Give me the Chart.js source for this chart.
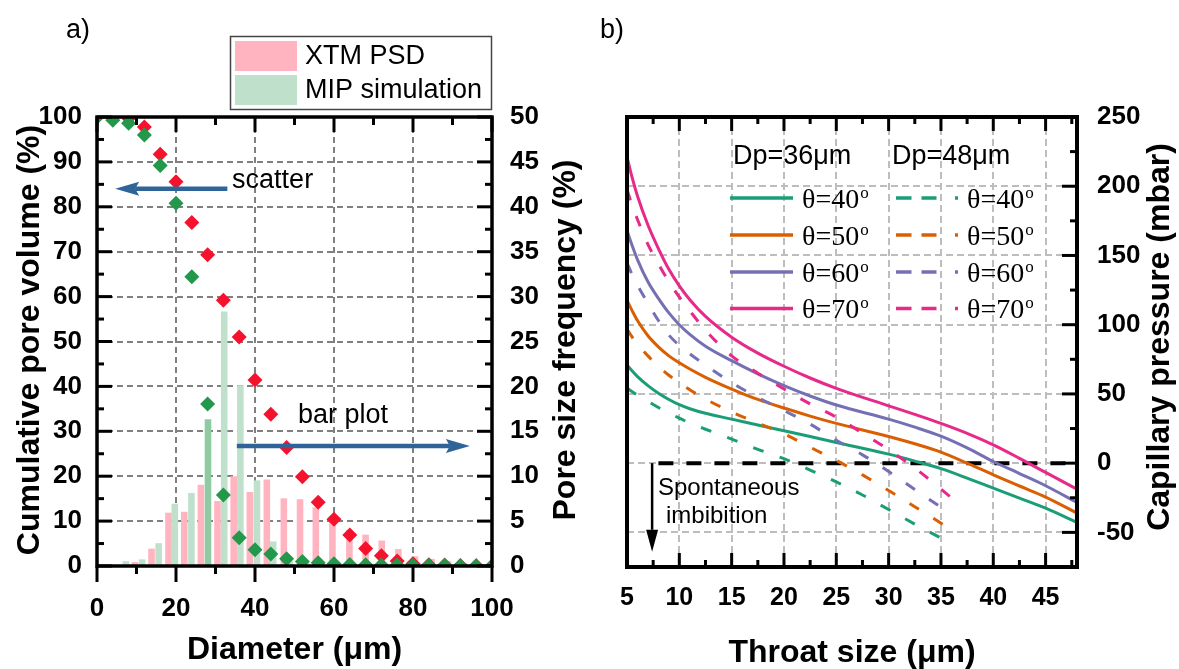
<!DOCTYPE html>
<html>
<head>
<meta charset="utf-8">
<script src="https://cdn.jsdelivr.net/npm/chart.js@4.4.0/dist/chart.umd.min.js"></script>
<style>
  html, body { margin: 0; padding: 0; background: #fff; }
  #wrap { position: relative; width: 1179px; height: 669px; overflow: hidden; background: #fff; }
  #chartA { position: absolute; left: 0; top: 0; }
  #chartB { position: absolute; left: 590px; top: 0; }
</style>
</head>
<body>
<div id="wrap">
  <canvas id="chartA" width="590" height="669"></canvas>
  <canvas id="chartB" width="589" height="669"></canvas>
</div>
<script>
// ---- panel a data ----
const diameter = [0, 4, 8, 12, 16, 20, 24, 28, 32, 36, 40, 44, 48, 52, 56, 60, 64, 68, 72, 76, 80, 84, 88, 92, 96, 100];
const xtmCumulative = [100, 99.9, 99.7, 97.8, 91.7, 85.6, 76.5, 69.3, 59.2, 51.0, 41.4, 33.8, 26.4, 19.9, 14.2, 10.4, 6.9, 3.9, 2.3, 1.1, 0.5, 0.3, 0.2, 0.1, 0.05, 0];
const mipCumulative = [100, 99.3, 98.6, 96.0, 89.2, 80.8, 64.4, 36.1, 15.8, 6.3, 3.6, 2.7, 1.6, 1.0, 0.7, 0.5, 0.35, 0.3, 0.25, 0.2, 0.15, 0.1, 0.1, 0.05, 0.05, 0];

const xtmBinCentre = [9.6, 13.8, 18.1, 22.1, 26.3, 30.5, 34.6, 38.7, 43.0, 47.3, 51.4, 55.4, 59.6, 63.9, 68.0, 72.1, 76.3, 80.5, 84.7, 88.9, 92.9];
const xtmFrequency = [0.4, 1.9, 5.9, 6.0, 9.0, 7.2, 9.95, 8.2, 9.6, 7.5, 7.4, 6.5, 5.5, 4.0, 3.45, 2.8, 1.85, 1.05, 0.75, 0.5, 0.3];
const mipBinCentre = [7.3, 11.4, 15.6, 19.7, 23.9, 28.1, 32.2, 36.3, 40.5, 44.6, 48.8, 52.9, 57.1];
const mipFrequency = [0.5, 0.7, 2.5, 6.9, 8.1, 16.3, 28.3, 20.1, 9.5, 2.7, 0.5, 0.3, 0.15];

const diameterTicks = [0, 20, 40, 60, 80, 100];
const diameterMinor = [10, 30, 50, 70, 90];
const volumeTicks = [0, 10, 20, 30, 40, 50, 60, 70, 80, 90, 100];
const volumeMinor = [5, 15, 25, 35, 45, 55, 65, 75, 85, 95];
const freqTicks = [0, 5, 10, 15, 20, 25, 30, 35, 40, 45, 50];
const freqMinor = [2.5, 7.5, 12.5, 17.5, 22.5, 27.5, 32.5, 37.5, 42.5, 47.5];

// ---- panel b data ----
const throatSolid = [5, 5.5, 6, 7, 8, 9, 10, 11, 12.5, 15, 17.5, 20, 22.5, 25, 30, 32.5, 35, 37.5, 40, 42.5, 45, 48];
const pcSolid40 = [71, 66.5, 62.5, 56, 50.5, 46, 42.2, 39.3, 36, 31.8, 27.5, 23.4, 19.2, 14.9, 6.5, 1.5, -4, -10.8, -18, -25.3, -32.5, -42.8];
const pcSolid50 = [117.6, 110, 103, 92, 84, 77.5, 72.5, 68, 62, 53.5, 46, 39.8, 34, 28.7, 19.3, 14, 8, 0, -8.4, -16.5, -24.5, -36];
const pcSolid60 = [168, 157, 147, 131, 119, 108.5, 100, 93, 84.5, 74, 64.5, 56, 48.5, 42, 31.8, 26, 19.5, 11, 1.2, -7.5, -16.3, -28.4];
const pcSolid70 = [221, 206, 193, 172, 155, 140, 128, 118, 106, 91, 79.5, 70, 61.5, 54, 41.4, 35.2, 28.7, 21.5, 13.2, 3.5, -6.7, -18.8];

const throatDashed = [5, 5.5, 6, 7, 8, 9, 10, 11, 12.5, 15, 17.5, 20, 22.5, 25, 27.5, 30, 32.5, 36];
const pcDash40 = [54.2, 51.6, 49.2, 44.6, 40.2, 36.2, 32.5, 29, 24.5, 17.4, 10, 3.2, -5, -13.5, -23, -33.5, -44, -58];
const pcDash50 = [96.9, 91, 86, 77.5, 70, 63.5, 58, 53, 46.3, 37, 29, 21.2, 11.5, 2, -8.5, -19.7, -31.5, -48];
const pcDash60 = [144.6, 136, 128.5, 115.5, 103, 92.5, 85, 79, 70.8, 58.2, 47.5, 38, 28.2, 16.5, 6, -6, -19, -37];
const pcDash70 = [197.6, 186, 176, 158, 144, 131, 120, 110, 96, 77.5, 65, 53.5, 42.8, 33.2, 21.7, 9.7, -3.5, -25];

const throatTicks = [5, 10, 15, 20, 25, 30, 35, 40, 45];
const throatMinor = [7.5, 12.5, 17.5, 22.5, 27.5, 32.5, 37.5, 42.5, 47.5];
const pressureTicks = [-50, 0, 50, 100, 150, 200, 250];
const pressureMinor = [-25, 25, 75, 125, 175, 225];

const angles = ["40", "50", "60", "70"];
const dark2 = ["#1b9e77", "#d95f02", "#7570b3", "#e7298a"];

const FONT = '"Liberation Sans", Arial, sans-serif';
const SERIF = '"Liberation Serif", "Times New Roman", serif';
const pts = (xs, ys) => xs.map((x, i) => ({ x: x, y: ys[i] }));

function line(ctx, x1, y1, x2, y2) {
    ctx.beginPath();
    ctx.moveTo(x1, y1);
    ctx.lineTo(x2, y2);
    ctx.stroke();
}

function arrow(ctx, x1, y1, x2, y2, o) {
    const ang = Math.atan2(y2 - y1, x2 - x1), c = Math.cos(ang), s = Math.sin(ang);
    const bx = x2 - c * o.len, by = y2 - s * o.len;
    ctx.strokeStyle = o.color;
    ctx.fillStyle = o.color;
    ctx.lineWidth = o.w;
    ctx.setLineDash([]);
    line(ctx, x1, y1, bx + c * o.notch, by + s * o.notch);
    ctx.beginPath();
    ctx.moveTo(x2, y2);
    ctx.lineTo(bx - s * o.half, by + c * o.half);
    ctx.lineTo(bx + c * o.notch, by + s * o.notch);
    ctx.lineTo(bx + s * o.half, by - c * o.half);
    ctx.closePath();
    ctx.fill();
}

function ticksX(ctx, scale, values, yEdge, len) {
    values.forEach(v => {
        const p = scale.getPixelForValue(v);
        line(ctx, p, yEdge, p, yEdge + len);
    });
}
function ticksY(ctx, scale, values, xEdge, len) {
    values.forEach(v => {
        const p = scale.getPixelForValue(v);
        line(ctx, xEdge, p, xEdge + len, p);
    });
}
function vText(ctx, text, x, y) {
    ctx.save();
    ctx.translate(x, y);
    ctx.rotate(-Math.PI / 2);
    ctx.textAlign = "center";
    ctx.textBaseline = "middle";
    ctx.fillText(text, 0, 0);
    ctx.restore();
}
function theta(ctx, deg, x, yc) {
    ctx.fillStyle = "#000";
    ctx.textAlign = "left";
    ctx.textBaseline = "alphabetic";
    ctx.font = "28px " + SERIF;
    const t = "θ=" + deg;
    ctx.fillText(t, x, yc + 9.5);
    const w = ctx.measureText(t).width;
    ctx.font = "17px " + SERIF;
    ctx.fillText("o", x + w + 1, yc - 0.5);
}

const tickFont = { family: FONT, size: 26, weight: "bold" };

// ------ panel a decorations ------
const panelA = {
    id: "panelA",
    afterDraw(chart) {
        const { ctx, chartArea: a, scales: { x, y, y2 } } = chart;
        ctx.save();
        ctx.strokeStyle = "#000";
        ctx.lineWidth = 3;
        ticksX(ctx, x, diameterTicks, a.bottom, 16);
        ticksX(ctx, x, diameterMinor, a.bottom, 8);
        ticksX(ctx, x, diameterTicks, a.top, 15);
        ticksX(ctx, x, diameterMinor, a.top, 8);
        ticksY(ctx, y, volumeTicks, a.left, 15);
        ticksY(ctx, y, volumeMinor, a.left, 7);
        ticksY(ctx, y2, freqTicks, a.right, -15);
        ticksY(ctx, y2, freqMinor, a.right, -7);
        ctx.lineWidth = 3.5;
        ctx.strokeRect(a.left, a.top, a.right - a.left, a.bottom - a.top);

        // arrows + notes
        const blue = "#2f6499";
        arrow(ctx, x.getPixelForValue(33), y.getPixelForValue(84), x.getPixelForValue(4.6), y.getPixelForValue(84),
            { w: 4.5, len: 24, half: 7, notch: 4, color: blue });
        arrow(ctx, x.getPixelForValue(35.4), y.getPixelForValue(26.7), x.getPixelForValue(94.4), y.getPixelForValue(26.7),
            { w: 4.5, len: 24, half: 7, notch: 4, color: blue });
        ctx.fillStyle = "#000";
        ctx.font = "27px " + FONT;
        ctx.textAlign = "left";
        ctx.textBaseline = "middle";
        ctx.fillText("scatter", x.getPixelForValue(34.2), y.getPixelForValue(85.8));
        ctx.fillText("bar plot", x.getPixelForValue(50.9), y.getPixelForValue(33.6));

        // legend
        ctx.lineWidth = 1.5;
        ctx.strokeStyle = "#444";
        ctx.strokeRect(230.5, 36.5, 261, 73);
        ctx.fillStyle = "#ffb4bf";
        ctx.fillRect(235, 41, 62, 30);
        ctx.fillStyle = "#bfe1cb";
        ctx.fillRect(235, 75, 62, 30);
        ctx.fillStyle = "#000";
        ctx.fillText("XTM PSD", 305, 57);
        ctx.fillText("MIP simulation", 305, 91);

        ctx.font = "27px " + FONT;
        ctx.fillText("a)", 66, 31);

        ctx.font = "bold 32px " + FONT;
        vText(ctx, "Cumulative pore volume (%)", 30, 340);
        vText(ctx, "Pore size frequency (%)", 566, 340);
        ctx.textAlign = "center";
        ctx.fillText("Diameter (μm)", (a.left + a.right) / 2, 650);
        ctx.restore();
    }
};

const mipColors = mipFrequency.map((v, i) => i === 5 ? "#8fcaa3" : "#bfe1cb");

new Chart(document.getElementById("chartA"), {
    type: "scatter",
    data: {
        datasets: [
            {
                type: "scatter", label: "MIP cumulative", data: pts(diameter, mipCumulative), yAxisID: "y",
                pointStyle: "rectRot", pointRadius: 7.5, backgroundColor: "#23984a", borderWidth: 0, order: 0
            },
            {
                type: "scatter", label: "XTM cumulative", data: pts(diameter, xtmCumulative), yAxisID: "y",
                pointStyle: "rectRot", pointRadius: 7.5, backgroundColor: "#f5122d", borderWidth: 0, order: 1
            },
            {
                type: "bar", label: "MIP simulation", data: pts(mipBinCentre, mipFrequency), yAxisID: "y2",
                backgroundColor: mipColors, borderWidth: 0, grouped: false, barPercentage: 1, categoryPercentage: 1,
                maxBarThickness: 7, order: 2
            },
            {
                type: "bar", label: "XTM PSD", data: pts(xtmBinCentre, xtmFrequency), yAxisID: "y2",
                backgroundColor: "#ffb4bf", borderWidth: 0, grouped: false, barPercentage: 1, categoryPercentage: 1,
                maxBarThickness: 7, order: 3
            }
        ]
    },
    options: {
        responsive: false,
        animation: false,
        devicePixelRatio: 1,
        layout: { padding: { top: 117, left: 0, right: 0, bottom: 0 } },
        plugins: { legend: { display: false }, tooltip: { enabled: false } },
        scales: {
            x: {
                type: "linear", min: 0, max: 100, offset: false,
                afterBuildTicks: s => { s.ticks = diameterTicks.map(v => ({ value: v })); },
                afterFit: s => { s.height = 103; },
                grid: { color: "#808080", lineWidth: 2, drawTicks: false, offset: false },
                border: { display: false, dash: [6, 4] },
                ticks: { font: tickFont, color: "#000", padding: 27, maxRotation: 0 }
            },
            y: {
                type: "linear", position: "left", min: 0, max: 100,
                afterBuildTicks: s => { s.ticks = volumeTicks.map(v => ({ value: v })); },
                afterFit: s => { s.width = 97; },
                grid: { color: "#808080", lineWidth: 2, drawTicks: false },
                border: { display: false, dash: [6, 4] },
                ticks: { font: tickFont, color: "#000", padding: 15 }
            },
            y2: {
                type: "linear", position: "right", min: 0, max: 50,
                afterBuildTicks: s => { s.ticks = freqTicks.map(v => ({ value: v })); },
                afterFit: s => { s.width = 98; },
                grid: { display: false, drawTicks: false },
                border: { display: false },
                ticks: { font: tickFont, color: "#000", padding: 18 }
            }
        }
    },
    plugins: [panelA]
});

// ------ panel b ------
const zeroLineFrom = 8;
const panelB = {
    id: "panelB",
    beforeDatasetsDraw(chart) {
        const { ctx, chartArea: a, scales: { x, y } } = chart;
        ctx.save();
        ctx.strokeStyle = "#000";
        ctx.lineWidth = 4;
        ctx.setLineDash([15, 13]);
        const py = y.getPixelForValue(0);
        line(ctx, x.getPixelForValue(zeroLineFrom), py, a.right, py);
        ctx.restore();
    },
    afterDraw(chart) {
        const { ctx, chartArea: a, scales: { x, y } } = chart;
        ctx.save();
        ctx.strokeStyle = "#000";
        ctx.lineWidth = 3;
        ticksX(ctx, x, throatTicks, a.bottom, -14);
        ticksX(ctx, x, throatMinor, a.bottom, -7);
        ticksX(ctx, x, throatTicks, a.top, 14);
        ticksX(ctx, x, throatMinor, a.top, 7);
        ticksY(ctx, y, pressureTicks, a.right, -15);
        ticksY(ctx, y, pressureMinor, a.right, -7);
        ctx.lineWidth = 4;
        ctx.strokeRect(a.left, a.top, a.right - a.left, a.bottom - a.top);

        // legend
        ctx.fillStyle = "#000";
        ctx.font = "27px " + FONT;
        ctx.textAlign = "left";
        ctx.textBaseline = "middle";
        ctx.fillText("Dp=36μm", 143, 157);
        ctx.fillText("Dp=48μm", 302, 157);
        const rowsY = [198, 235, 272, 308.5];
        rowsY.forEach((ry, i) => {
            ctx.strokeStyle = dark2[i];
            ctx.lineWidth = 3.5;
            ctx.setLineDash([]);
            line(ctx, 140, ry, 203, ry);
            ctx.setLineDash([15.5, 10, 15, 18.5, 3, 100]);
            line(ctx, 306, ry, 368, ry);
            ctx.setLineDash([]);
            theta(ctx, angles[i], 212, ry);
            theta(ctx, angles[i], 377, ry);
        });

        // spontaneous imbibition note
        arrow(ctx, x.getPixelForValue(7.4), y.getPixelForValue(0), x.getPixelForValue(7.4), y.getPixelForValue(-64),
            { w: 2.5, len: 22, half: 6, notch: 0, color: "#000" });
        ctx.fillStyle = "#000";
        ctx.font = "24px " + FONT;
        ctx.textAlign = "left";
        ctx.textBaseline = "middle";
        ctx.fillText("Spontaneous", 68, 488);
        ctx.fillText("imbibition", 76, 516);

        ctx.font = "27px " + FONT;
        ctx.fillText("b)", 10, 31);

        ctx.font = "bold 32px " + FONT;
        vText(ctx, "Capillary pressure (mbar)", 570, 337);
        ctx.textAlign = "center";
        ctx.textBaseline = "middle";
        ctx.fillText("Throat size (μm)", (a.left + a.right) / 2, 653);
        ctx.restore();
    }
};

function curve(label, xs, ys, color, dashed) {
    return {
        type: "line", label: label, data: pts(xs, ys), borderColor: color, borderWidth: 3,
        borderDash: dashed ? [11, 17] : [], pointRadius: 0, fill: false, cubicInterpolationMode: "monotone"
    };
}

new Chart(document.getElementById("chartB"), {
    type: "scatter",
    data: {
        datasets: [
            curve("Dp=48 θ=40", throatDashed, pcDash40, dark2[0], true),
            curve("Dp=48 θ=50", throatDashed, pcDash50, dark2[1], true),
            curve("Dp=48 θ=60", throatDashed, pcDash60, dark2[2], true),
            curve("Dp=48 θ=70", throatDashed, pcDash70, dark2[3], true),
            curve("Dp=36 θ=40", throatSolid, pcSolid40, dark2[0], false),
            curve("Dp=36 θ=50", throatSolid, pcSolid50, dark2[1], false),
            curve("Dp=36 θ=60", throatSolid, pcSolid60, dark2[2], false),
            curve("Dp=36 θ=70", throatSolid, pcSolid70, dark2[3], false)
        ]
    },
    options: {
        responsive: false,
        animation: false,
        devicePixelRatio: 1,
        layout: { padding: { top: 117, left: 37, right: 0, bottom: 0 } },
        plugins: { legend: { display: false }, tooltip: { enabled: false } },
        scales: {
            x: {
                type: "linear", min: 5, max: 48, offset: false,
                afterBuildTicks: s => { s.ticks = throatTicks.map(v => ({ value: v })); },
                afterFit: s => { s.height = 102; },
                grid: { color: "#bdbdbd", lineWidth: 2, drawTicks: false, offset: false },
                border: { display: false, dash: [7, 4] },
                ticks: { font: { family: FONT, size: 25, weight: "bold" }, color: "#000", padding: 16, maxRotation: 0 }
            },
            y: {
                type: "linear", position: "right", min: -75, max: 250,
                afterBuildTicks: s => { s.ticks = pressureTicks.map(v => ({ value: v })); },
                afterFit: s => { s.width = 102; },
                grid: { color: "#bdbdbd", lineWidth: 2, drawTicks: false },
                border: { display: false, dash: [7, 4] },
                ticks: { font: tickFont, color: "#000", padding: 20 }
            }
        }
    },
    plugins: [panelB]
});
</script>
</body>
</html>
